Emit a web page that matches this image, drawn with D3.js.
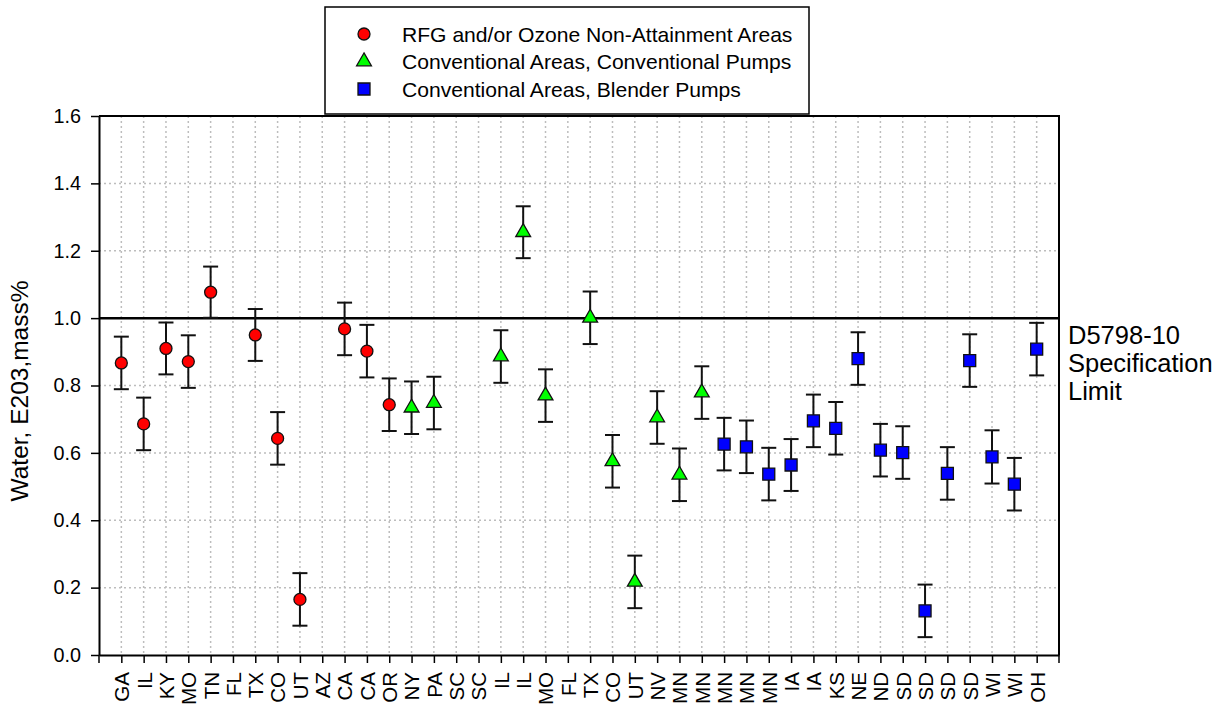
<!DOCTYPE html>
<html>
<head>
<meta charset="utf-8">
<script src="https://cdn.jsdelivr.net/npm/d3@7"></script>
<style>
  body { margin: 0; background: #fff; }
  svg { display: block; font-family: 'Liberation Sans', Arial, sans-serif; }
</style>
</head>
<body>
<script>
// x categories (state of each sample)
const categories = ['GA', 'IL', 'KY', 'MO', 'TN', 'FL', 'TX', 'CO', 'UT', 'AZ', 'CA', 'CA', 'OR', 'NY', 'PA',
  'SC', 'SC', 'IL', 'IL', 'MO', 'FL', 'TX', 'CO', 'UT', 'NV', 'MN', 'MN', 'MN', 'MN', 'MN',
  'IA', 'IA', 'KS', 'NE', 'ND', 'SD', 'SD', 'SD', 'SD', 'WI', 'WI', 'OH'];

const yTicks = [0, 0.2, 0.4, 0.6, 0.8, 1.0, 1.2, 1.4, 1.6];
const specLimit = 1.0;
const specLabel = ['D5798-10', 'Specification', 'Limit'];

// RFG and/or ozone non-attainment areas
const rfgIndex = [0, 1, 2, 3, 4, 6, 7, 8, 10, 11, 12];
const rfgValue = [0.867, 0.686, 0.910, 0.871, 1.077, 0.950, 0.643, 0.165, 0.968, 0.902, 0.743];
const rfgError = [0.078, 0.078, 0.077, 0.078, 0.076, 0.077, 0.078, 0.078, 0.078, 0.078, 0.078];

// conventional areas, conventional pumps
const convIndex = [13, 14, 17, 18, 19, 21, 22, 23, 24, 25, 26];
const convValue = [0.734, 0.748, 0.886, 1.255, 0.770, 1.001, 0.575, 0.217, 0.705, 0.535, 0.779];
const convError = [0.078, 0.078, 0.078, 0.077, 0.078, 0.078, 0.078, 0.078, 0.078, 0.078, 0.078];

// conventional areas, blender pumps
const blendIndex = [27, 28, 29, 30, 31, 32, 33, 34, 35, 36, 37, 38, 39, 40, 41];
const blendValue = [0.626, 0.618, 0.537, 0.564, 0.695, 0.673, 0.880, 0.608, 0.601, 0.131, 0.539, 0.874, 0.588, 0.507, 0.908];
const blendError = [0.078, 0.078, 0.078, 0.077, 0.078, 0.078, 0.078, 0.078, 0.078, 0.078, 0.078, 0.078, 0.079, 0.078, 0.078];

const legendLabels = ['RFG and/or Ozone Non-Attainment Areas', 'Conventional Areas, Conventional Pumps', 'Conventional Areas, Blender Pumps'];

const W = 1225, H = 706;
const plotLeft = 99, plotRight = 1059, plotTop = 116, plotBottom = 655;

const svg = d3.select('body').append('svg')
  .attr('width', W)
  .attr('height', H);

svg.append('rect').attr('width', W).attr('height', H).attr('fill', '#fff');

const x = d3.scalePoint()
  .domain(d3.range(categories.length))
  .range([plotLeft, plotRight])
  .padding(1);

const y = d3.scaleLinear()
  .domain([0, 1.6])
  .range([plotBottom, plotTop]);

// dotted grid
const grid = svg.append('g')
  .attr('stroke', '#bdbdbd')
  .attr('stroke-width', 1.5)
  .attr('stroke-dasharray', '2,3');

grid.selectAll('line.v')
  .data(d3.range(categories.length))
  .enter().append('line')
  .attr('class', 'v')
  .attr('x1', (d) => x(d)).attr('x2', (d) => x(d))
  .attr('y1', plotTop).attr('y2', plotBottom);

grid.selectAll('line.h')
  .data(yTicks.slice(1, -1))
  .enter().append('line')
  .attr('class', 'h')
  .attr('x1', plotLeft).attr('x2', plotRight)
  .attr('y1', (d) => y(d)).attr('y2', (d) => y(d));

// axes
const yAxis = svg.append('g')
  .attr('transform', 'translate(' + plotLeft + ',0)')
  .call(d3.axisLeft(y).tickValues(yTicks).tickFormat(d3.format('.1f')).tickSize(8).tickSizeOuter(0));

const xAxis = svg.append('g')
  .attr('transform', 'translate(0,' + plotBottom + ')')
  .call(d3.axisBottom(x).tickFormat((i) => categories[i]).tickSize(8).tickSizeOuter(0));

[yAxis, xAxis].forEach((g) => {
  g.select('.domain').attr('stroke', '#000').attr('stroke-width', 2);
  g.selectAll('.tick line').attr('stroke', '#000').attr('stroke-width', 1.5);
});

yAxis.selectAll('.tick text')
  .attr('x', -18)
  .attr('font-size', 19.8)
  .attr('fill', '#000');

xAxis.selectAll('.tick text')
  .attr('transform', 'rotate(-90)')
  .attr('x', -17)
  .attr('y', 0)
  .attr('dy', '0.36em')
  .attr('text-anchor', 'end')
  .attr('font-size', 20.5)
  .attr('fill', '#000');

// extra ticks at both ends of the x axis
svg.selectAll('line.edge')
  .data([plotLeft, plotRight])
  .enter().append('line')
  .attr('x1', (d) => d).attr('x2', (d) => d)
  .attr('y1', plotBottom).attr('y2', plotBottom + 8)
  .attr('stroke', '#000').attr('stroke-width', 1.5);

// top and right border
svg.append('path')
  .attr('d', 'M' + plotLeft + ',' + plotTop + 'H' + plotRight + 'V' + plotBottom)
  .attr('fill', 'none')
  .attr('stroke', '#000')
  .attr('stroke-width', 2);

// specification limit
svg.append('line')
  .attr('x1', plotLeft).attr('x2', plotRight)
  .attr('y1', y(specLimit)).attr('y2', y(specLimit))
  .attr('stroke', '#000')
  .attr('stroke-width', 2.5);

svg.append('text')
  .attr('x', 1068)
  .attr('y', 344)
  .attr('font-size', 25.5)
  .selectAll('tspan')
  .data(specLabel)
  .enter().append('tspan')
  .attr('x', 1068)
  .attr('dy', (d, i) => i === 0 ? 0 : 28.2)
  .text((d) => d);

// y title
svg.append('text')
  .attr('transform', 'translate(28,391) rotate(-90)')
  .attr('text-anchor', 'middle')
  .attr('font-size', 24.5)
  .text('Water, E203,mass%');

// series
const circle = d3.symbol().type(d3.symbolCircle).size(Math.PI * 6 * 6);
const triangle = d3.symbol().type(d3.symbolTriangle).size(95);
const square = d3.symbol().type(d3.symbolSquare).size(12 * 12);

const series = [
  { idx: rfgIndex, val: rfgValue, err: rfgError, color: '#ff0000', shape: circle },
  { idx: convIndex, val: convValue, err: convError, color: '#00ff00', shape: triangle },
  { idx: blendIndex, val: blendValue, err: blendError, color: '#0000ff', shape: square }
];

series.forEach((s) => {
  const pts = s.idx.map((c, i) => ({ c: c, v: s.val[i], e: s.err[i] }));
  const g = svg.append('g');

  const bars = g.selectAll('g.err')
    .data(pts)
    .enter().append('g')
    .attr('stroke', '#111')
    .attr('stroke-width', 2);

  bars.append('line')
    .attr('x1', (d) => x(d.c)).attr('x2', (d) => x(d.c))
    .attr('y1', (d) => y(d.v + d.e)).attr('y2', (d) => y(d.v - d.e));
  bars.append('line')
    .attr('x1', (d) => x(d.c) - 7.5).attr('x2', (d) => x(d.c) + 7.5)
    .attr('y1', (d) => y(d.v + d.e)).attr('y2', (d) => y(d.v + d.e));
  bars.append('line')
    .attr('x1', (d) => x(d.c) - 7.5).attr('x2', (d) => x(d.c) + 7.5)
    .attr('y1', (d) => y(d.v - d.e)).attr('y2', (d) => y(d.v - d.e));

  g.selectAll('path.mark')
    .data(pts)
    .enter().append('path')
    .attr('d', s.shape)
    .attr('transform', (d) => 'translate(' + x(d.c) + ',' + y(d.v) + ')')
    .attr('fill', s.color)
    .attr('stroke', '#111')
    .attr('stroke-width', 1.3);
});

// legend
const legend = svg.append('g');
legend.append('rect')
  .attr('x', 325).attr('y', 7)
  .attr('width', 484).attr('height', 107)
  .attr('fill', '#fff')
  .attr('stroke', '#000')
  .attr('stroke-width', 1.5);

const legendRows = legend.selectAll('g.row')
  .data(series)
  .enter().append('g')
  .attr('transform', (d, i) => 'translate(364,' + (34 + i * 27.5) + ')');

legendRows.append('path')
  .attr('d', (d) => d.shape())
  .attr('fill', (d) => d.color)
  .attr('stroke', '#111')
  .attr('stroke-width', 1.3);

legendRows.append('text')
  .attr('x', 38)
  .attr('y', 7.5)
  .attr('font-size', 21.1)
  .text((d, i) => legendLabels[i]);
</script>
</body>
</html>
